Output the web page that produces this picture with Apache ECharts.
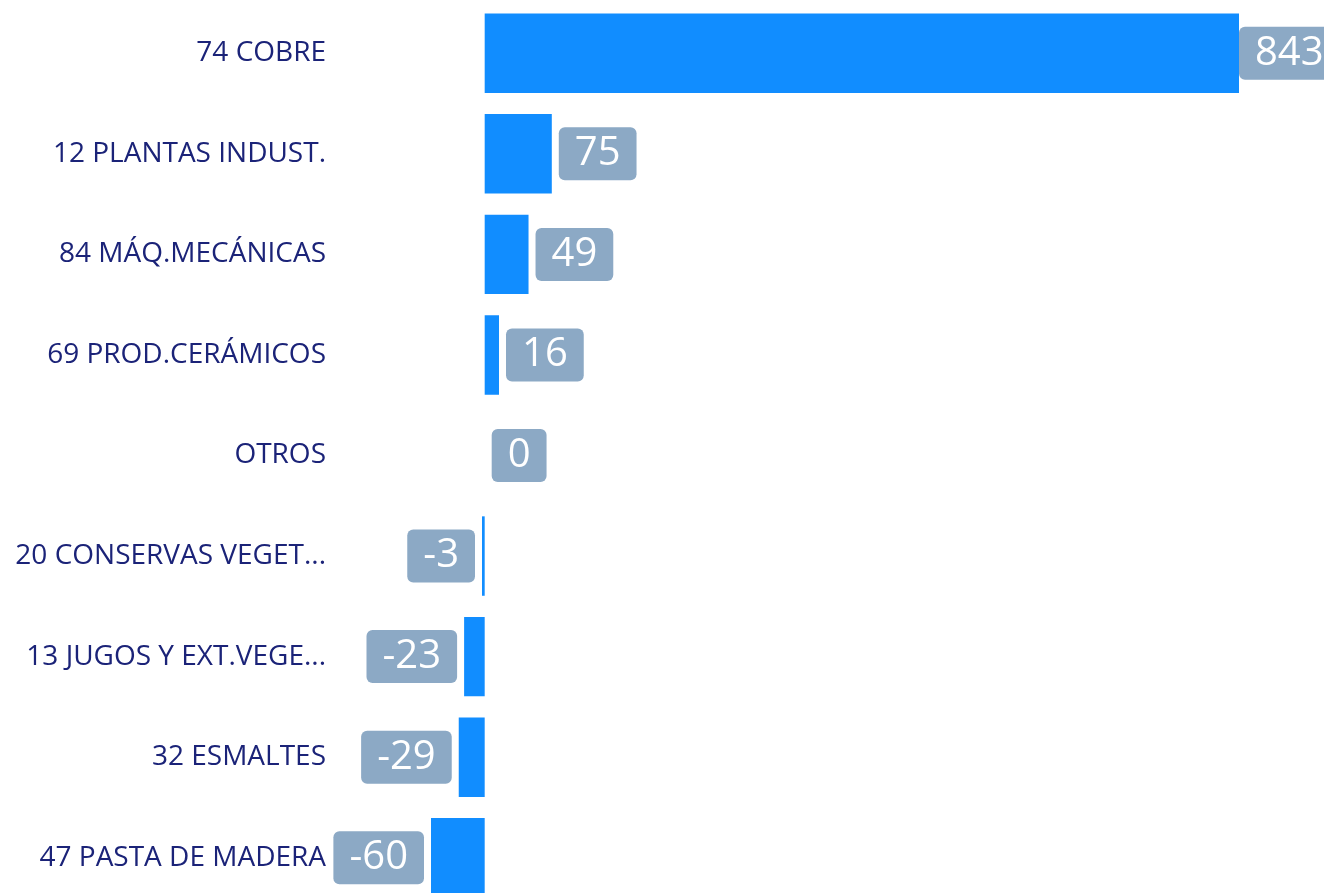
<!DOCTYPE html>
<html>
<head>
<meta charset="utf-8">
<script src="https://cdn.jsdelivr.net/npm/echarts@6/dist/echarts.min.js"></script>
<style>
  html, body { margin: 0; padding: 0; background: #fff; }
  #chart { width: 1324px; height: 893px; }
</style>
</head>
<body>
<div id="chart"></div>
<script>
// categorias (ya recortadas como en el informe)
var categories = [
  '74 COBRE',
  '12 PLANTAS INDUST.',
  '84 MÁQ.MECÁNICAS',
  '69 PROD.CERÁMICOS',
  'OTROS',
  '20 CONSERVAS VEGET...',
  '13 JUGOS Y EXT.VEGE...',
  '32 ESMALTES',
  '47 PASTA DE MADERA'
]
var values = [843, 75, 49, 16, 0, -3, -23, -29, -60]

var chart = echarts.init(document.getElementById('chart'))

var maxVal = Math.max.apply(null, values)
var seriesData = values.map(function(v) {
  return {
    value: v,
    label: {
      position: v < 0 ? 'left' : 'right',
      // la etiqueta del mayor queda pegada a la barra
      distance: v === maxVal ? 0 : 7
    }
  }
})

var option = {
  animation: false,
  grid: {
    left: 431,
    right: 85,
    top: 3,
    height: 905,
    containLabel: false,
    outerBoundsMode: 'none'
  },
  xAxis: {
    type: 'value',
    min: 'dataMin',
    max: 'dataMax',
    show: false
  },
  yAxis: {
    type: 'category',
    inverse: true,
    data: categories,
    axisLine: { show: false },
    axisTick: { show: false },
    splitLine: { show: false },
    axisLabel: {
      margin: 105,
      color: '#1B2378',
      fontSize: 28,
      fontFamily: 'Open Sans',
      padding: [6, 0, 0, 0]
    }
  },
  series: [
    {
      type: 'bar',
      data: seriesData,
      barCategoryGap: '21%',
      itemStyle: { color: '#118DFF' },
      label: {
        show: true,
        distance: 7,
        color: '#fff',
        fontSize: 40,
        fontFamily: 'Open Sans',
        backgroundColor: '#8CA9C5',
        borderRadius: 6,
        padding: [8, 16, 5, 16]
      }
    }
  ]
}

chart.setOption(option)
window.addEventListener('resize', function() {
  chart.resize()
})
</script>
</body>
</html>
